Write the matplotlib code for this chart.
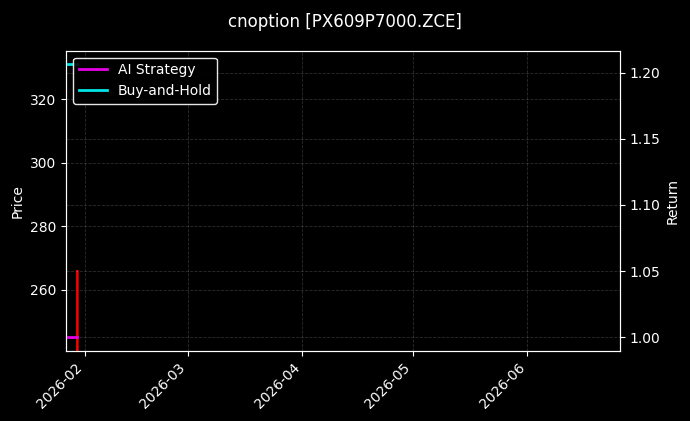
import pandas as pd
import matplotlib
matplotlib.use("Agg")
import matplotlib.pyplot as plt
import matplotlib.dates as mdates

# data
dates = pd.to_datetime(["2026-01-27", "2026-01-28", "2026-01-29", "2026-01-30"])
ai_strategy = [1.0, 1.0, 1.0, 1.0]
buy_and_hold = [1.2065, 1.2065, 1.2065, 1.2065]

price_dates = pd.to_datetime(["2026-01-30 00:00", "2026-01-30 00:01"])
price = [265.9, 240.0]

title = "cnoption [PX609P7000.ZCE]"

plt.style.use("dark_background")
fig, ax1 = plt.subplots(figsize=(6.9, 4.21), dpi=100)
fig.subplots_adjust(left=0.0961, right=0.898, top=0.8796, bottom=0.167)

# price on the left axis
ax1.plot(price_dates, price, color="red", linewidth=1.8)
ax1.set_ylabel("Price")
ax1.set_ylim(240.9, 335.3)
ax1.set_yticks([260, 280, 300, 320])
ax1.grid(True, linestyle="--", color="gray", alpha=0.35, linewidth=0.6)

# equity curves on the right axis
ax2 = ax1.twinx()
ax2.plot(dates, ai_strategy, color="#e600e6", linewidth=2, label="AI Strategy")
ax2.plot(dates, buy_and_hold, color="#00e5e5", linewidth=2, label="Buy-and-Hold")
ax2.set_ylabel("Return")
ax2.grid(True, linestyle="--", color="gray", alpha=0.35, linewidth=0.6)

ax1.set_xlim(pd.Timestamp("2026-01-27"), pd.Timestamp("2026-06-26"))
ax1.xaxis.set_major_locator(mdates.MonthLocator())
ax1.xaxis.set_major_formatter(mdates.DateFormatter("%Y-%m"))
plt.setp(ax1.get_xticklabels(), rotation=45, ha="right")

leg = ax2.legend(loc="upper left", facecolor="black", edgecolor="white", framealpha=0.9)

fig.suptitle(title, fontsize=12, y=0.97)
fig.savefig("out.png", dpi=100)
